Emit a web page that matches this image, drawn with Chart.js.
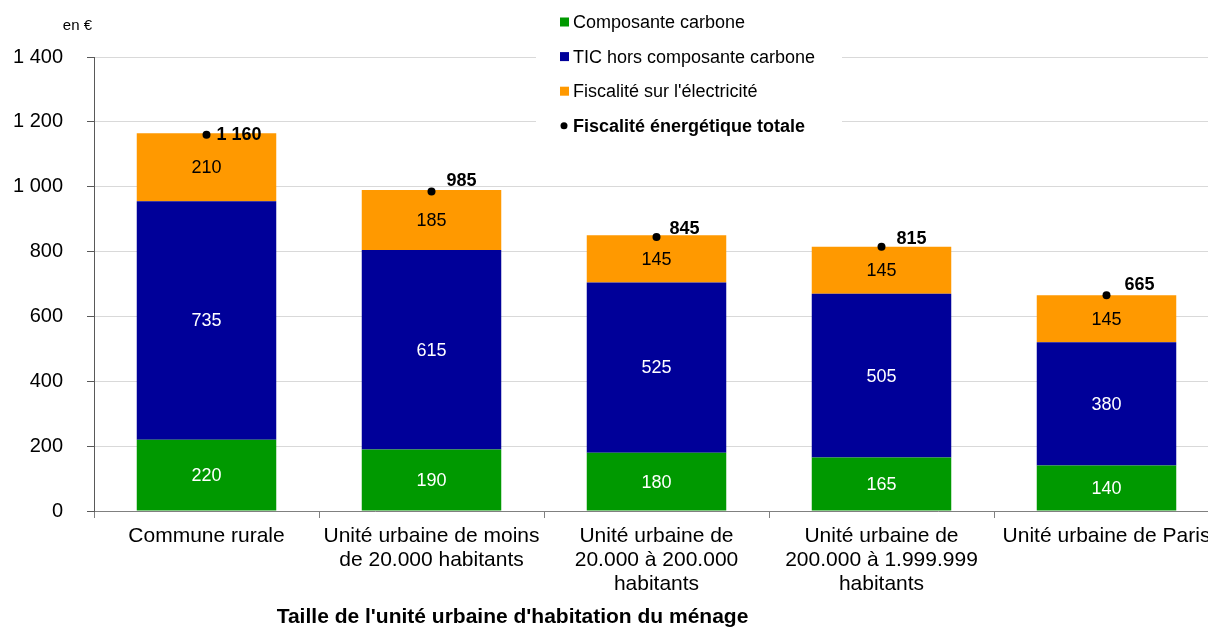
<!DOCTYPE html>
<html lang="fr">
<head>
<meta charset="utf-8">
<title>Fiscalité énergétique selon la taille de l'unité urbaine</title>
<script src="https://cdn.jsdelivr.net/npm/chart.js@4.4.1/dist/chart.umd.min.js"></script>
<style>
  html, body { margin: 0; padding: 0; background: #fff; overflow: hidden; }
  #wrap { width: 1208px; height: 628px; overflow: hidden; }
</style>
</head>
<body>
<div id="wrap"><canvas id="chart" width="1230" height="628"></canvas></div>
<script>
// Catégories (taille de l'unité urbaine)
const categories = [
  ['Commune rurale'],
  ['Unité urbaine de moins', 'de 20.000 habitants'],
  ['Unité urbaine de', '20.000 à 200.000', 'habitants'],
  ['Unité urbaine de', '200.000 à 1.999.999', 'habitants'],
  ['Unité urbaine de Paris']
];

// Montants par ménage, en euros
const composanteCarbone = [220, 190, 180, 165, 140];
const ticHorsCarbone = [735, 615, 525, 505, 380];
const fiscaliteElectricite = [210, 185, 145, 145, 145];
const fiscaliteTotale = [1160, 985, 845, 815, 665];

const yTicks = [0, 200, 400, 600, 800, 1000, 1200, 1400];

// décalage des étiquettes de total par rapport au point
const totalLabelOffsets = [[10, 0], [15, -11], [13, -8], [15, -8], [18, -10]];

const FONT = '"Liberation Sans", Arial, sans-serif';

function fmt(v) {
  return String(v).replace(/\B(?=(\d{3})+(?!\d))/g, ' ');
}

// valeurs au milieu de chaque segment + totaux en gras
const valueLabels = {
  id: 'valueLabels',
  afterDatasetsDraw(chart) {
    const ctx = chart.ctx;
    ctx.save();
    ctx.textBaseline = 'middle';
    chart.data.datasets.forEach((ds, i) => {
      const meta = chart.getDatasetMeta(i);
      if (ds.type === 'line') {
        ctx.font = 'bold 18px ' + FONT;
        ctx.fillStyle = '#000';
        ctx.textAlign = 'left';
        meta.data.forEach((pt, j) => {
          const [dx, dy] = totalLabelOffsets[j];
          ctx.fillText(fmt(ds.data[j]), pt.x + dx, pt.y + dy);
        });
      } else {
        ctx.font = '18px ' + FONT;
        ctx.fillStyle = ds.labelColor;
        ctx.textAlign = 'center';
        meta.data.forEach((bar, j) => {
          const p = bar.getProps(['x', 'y', 'base'], true);
          ctx.fillText(fmt(ds.data[j]), p.x, (p.y + p.base) / 2 + 1);
        });
      }
    });
    ctx.restore();
  }
};

// légende en colonne, unité et titre de l'axe horizontal
const decorations = {
  id: 'decorations',
  afterDraw(chart) {
    const ctx = chart.ctx;
    const area = chart.chartArea;
    ctx.save();

    ctx.fillStyle = '#fff';
    ctx.fillRect(536, 0, 306, 142);

    ctx.textBaseline = 'middle';
    ctx.textAlign = 'left';
    chart.data.datasets.forEach((ds, i) => {
      const y = 22 + i * 34.6;
      if (ds.type === 'line') {
        ctx.fillStyle = '#000';
        ctx.beginPath();
        ctx.arc(564, y, 3.5, 0, Math.PI * 2);
        ctx.fill();
        ctx.font = 'bold 18px ' + FONT;
      } else {
        ctx.fillStyle = ds.backgroundColor;
        ctx.fillRect(560, y - 4.5, 9, 9);
        ctx.font = '18px ' + FONT;
      }
      ctx.fillStyle = '#000';
      ctx.fillText(ds.label, 573, y + 1);
    });

    ctx.font = '15px ' + FONT;
    ctx.textAlign = 'right';
    ctx.fillText('en €', area.left - 2, 26);

    ctx.font = 'bold 21px ' + FONT;
    ctx.textAlign = 'center';
    ctx.fillText("Taille de l'unité urbaine d'habitation du ménage",
      area.left + (area.right - area.left) * 0.372, 617);
    ctx.restore();
  }
};

new Chart(document.getElementById('chart'), {
  type: 'bar',
  data: {
    labels: categories,
    datasets: [
      {
        label: 'Composante carbone',
        data: composanteCarbone,
        backgroundColor: '#009900',
        labelColor: '#fff',
        stack: 'fiscalite',
        order: 2
      },
      {
        label: 'TIC hors composante carbone',
        data: ticHorsCarbone,
        backgroundColor: '#000099',
        labelColor: '#fff',
        stack: 'fiscalite',
        order: 2
      },
      {
        label: "Fiscalité sur l'électricité",
        data: fiscaliteElectricite,
        backgroundColor: '#ff9900',
        labelColor: '#000',
        stack: 'fiscalite',
        order: 2
      },
      {
        type: 'line',
        label: 'Fiscalité énergétique totale',
        data: fiscaliteTotale,
        showLine: false,
        pointRadius: 4,
        pointBackgroundColor: '#000',
        pointBorderWidth: 0,
        stack: 'total',
        order: 1
      }
    ]
  },
  options: {
    responsive: false,
    animation: false,
    layout: { padding: { top: 57, right: 11, left: 0, bottom: 0 } },
    datasets: {
      bar: { categoryPercentage: 1, barPercentage: 0.62 }
    },
    plugins: {
      legend: { display: false },
      tooltip: { enabled: false }
    },
    scales: {
      x: {
        stacked: true,
        afterFit(scale) { scale.height = 117; },
        grid: {
          offset: true,
          drawOnChartArea: false,
          tickLength: 7,
          color: '#808080'
        },
        border: { color: '#808080', width: 1 },
        ticks: {
          color: '#000',
          padding: 6,
          maxRotation: 0,
          autoSkip: false,
          font: { family: FONT, size: 21, lineHeight: 1.143 }
        }
      },
      y: {
        stacked: true,
        min: 0,
        max: 1400,
        afterFit(scale) { scale.width = 94; },
        afterBuildTicks(scale) { scale.ticks = yTicks.map(v => ({ value: v })); },
        grid: {
          color: '#d9d9d9',
          tickColor: '#595959',
          tickLength: 7
        },
        border: { color: '#595959', width: 1 },
        ticks: {
          color: '#000',
          padding: 24,
          font: { family: FONT, size: 20 },
          callback: v => fmt(v)
        }
      }
    }
  },
  plugins: [valueLabels, decorations]
});
</script>
</body>
</html>
